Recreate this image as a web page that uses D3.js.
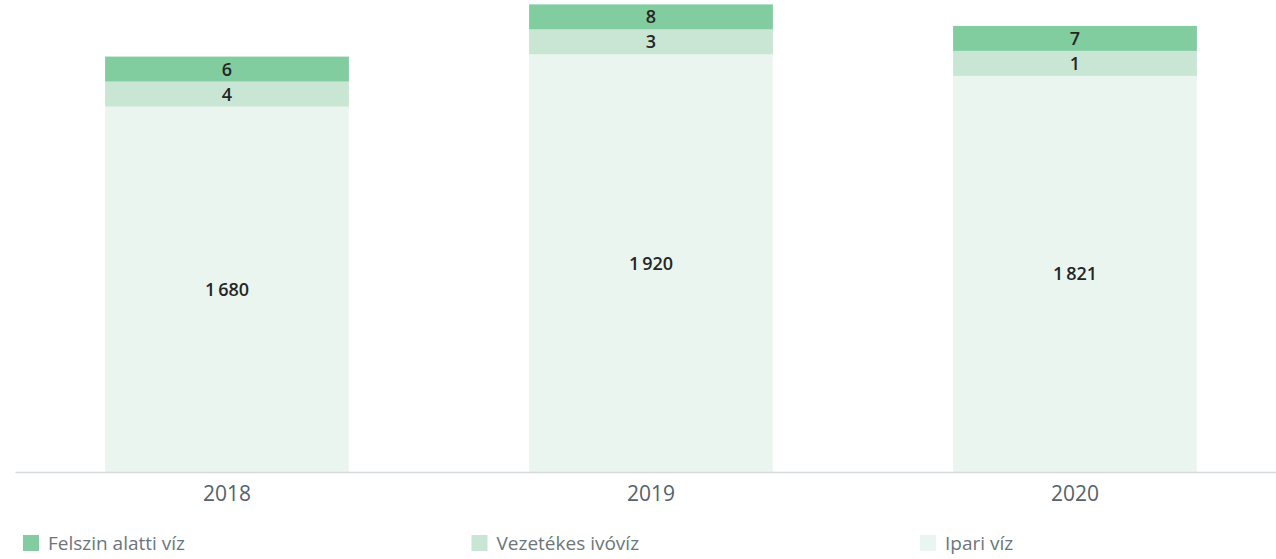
<!DOCTYPE html>
<html>
<head>
<meta charset="utf-8">
<script src="https://cdn.jsdelivr.net/npm/d3@7"></script>
<style>
  html, body { margin: 0; padding: 0; background: #fff; }
  svg { display: block; }
</style>
</head>
<body>
<div id="chart"></div>
<script>
// data
const years = ["2018", "2019", "2020"];
const seriesNames = ["Ipari víz", "Vezetékes ivóvíz", "Felszin alatti víz"];
const ipari = [1680, 1920, 1821];
const vezetekes = [4, 3, 1];
const felszinAlatti = [6, 8, 7];
const seriesColors = ["#ebf5ef", "#c9e6d4", "#81cda0"];
const legendOrder = ["Felszin alatti víz", "Vezetékes ivóvíz", "Ipari víz"];

const width = 1276, height = 559;
const baseline = 472;
const minSeg = 25; // small segments get a minimum visible height
const font = "'Open Sans', sans-serif";

const svg = d3.select("#chart").append("svg")
  .attr("width", width)
  .attr("height", height);

const x = d3.scaleBand()
  .domain(years)
  .range([15, 1287])
  .paddingInner(0.425)
  .paddingOuter(0.2125);

const y = d3.scaleLinear()
  .domain([0, 2170])
  .range([baseline, 0]);

const color = d3.scaleOrdinal().domain(seriesNames).range(seriesColors);

const rows = years.map((yr, i) => ({
  year: yr,
  "Ipari víz": ipari[i],
  "Vezetékes ivóvíz": vezetekes[i],
  "Felszin alatti víz": felszinAlatti[i]
}));

const fmt = v => d3.format(",")(v).replace(",", "\u2009");

// build segments, stacking bottom-up with a minimum height
const segs = [];
rows.forEach(r => {
  let y0 = baseline;
  seriesNames.forEach(name => {
    const h = Math.max(minSeg, baseline - y(r[name]));
    segs.push({ year: r.year, name, value: r[name], y0: y0 - h, h });
    y0 -= h;
  });
});

const g = svg.append("g");

g.selectAll("rect.seg")
  .data(segs)
  .join("rect")
  .attr("class", "seg")
  .attr("x", d => x(d.year))
  .attr("width", x.bandwidth())
  .attr("y", d => d.y0)
  .attr("height", d => d.h)
  .attr("fill", d => color(d.name));

g.selectAll("text.val")
  .data(segs)
  .join("text")
  .attr("class", "val")
  .attr("x", d => x(d.year) + x.bandwidth() / 2)
  .attr("y", d => d.y0 + d.h / 2)
  .attr("dy", "0.36em")
  .attr("text-anchor", "middle")
  .attr("font-family", font)
  .attr("font-weight", 600)
  .attr("font-size", 18)
  .attr("fill", "#262626")
  .text(d => fmt(d.value));

// x axis
const axis = svg.append("g")
  .attr("transform", `translate(0,${baseline})`)
  .call(d3.axisBottom(x).tickSize(0).tickPadding(14));

axis.select(".domain").attr("stroke", "#d3d9dc").attr("stroke-width", 1.5);
axis.selectAll("text")
  .attr("font-family", font)
  .attr("font-size", 21)
  .attr("fill", "#56626b");

// legend
const legendX = d3.scalePoint().domain(legendOrder).range([23, 920]);

const leg = svg.append("g").selectAll("g")
  .data(legendOrder)
  .join("g")
  .attr("transform", d => `translate(${legendX(d)},535)`);

leg.append("rect")
  .attr("width", 16)
  .attr("height", 16)
  .attr("fill", d => color(d));

leg.append("text")
  .attr("x", 25)
  .attr("y", 15)
  .attr("font-family", font)
  .attr("font-size", 19)
  .attr("fill", "#6b757c")
  .text(d => d);
</script>
</body>
</html>
